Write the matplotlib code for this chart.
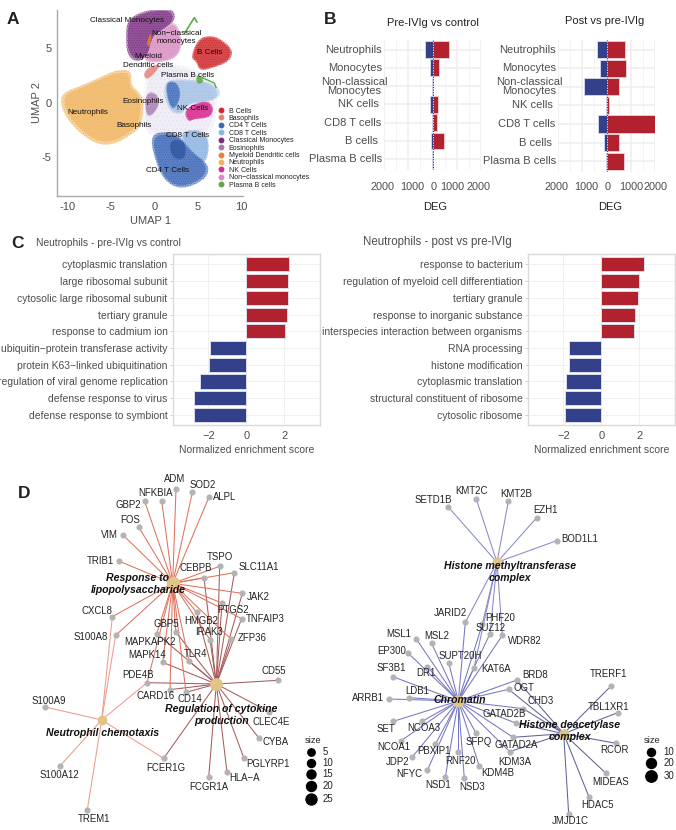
import matplotlib
matplotlib.use("Agg")
import matplotlib.pyplot as plt
from matplotlib.patches import Polygon
from matplotlib.lines import Line2D
from matplotlib.transforms import blended_transform_factory

plt.rcParams['font.family'] = ['Liberation Sans', 'DejaVu Sans']
plt.rcParams['hatch.linewidth'] = 0.35
W, H = 676, 830
fig = plt.figure(figsize=(W/100, H/100), dpi=100, facecolor='white')
GREY = '#4D4D4D'
RED = '#B2212E'
BLUE = '#33418A'

def axpx(x0, y0, x1, y1, **kw):
    return fig.add_axes([x0/W, 1-y1/H, (x1-x0)/W, (y1-y0)/H], **kw)

# ---------------- Panel A data (UMAP outlines) --------
cell_types = ['B Cells', 'Basophils', 'CD4 T Cells', 'CD8 T Cells', 'Classical Monocytes', 'Eosinophils',
              'Myeloid Dendritic cells', 'Neutrophils', 'NK Cells', 'Non\u2212classical monocytes', 'Plasma B cells']
cell_colors = ['#CF2A2E', '#E8837A', '#3E68B8', '#8DB4E2', '#7B2D80', '#A878B0',
               '#E9832F', '#EFB45E', '#D8288F', '#D88CC0', '#5BAA47']
pale_cloud = [(-1.2, 3.6), (3, 3.6), (6, 2.6), (7.2, 1), (7.2, -1), (6.5, -3), (2, -3.2), (-.5, -3.2), (-1.6, -1.5), (-1, 1.5)]
outline_neut = [(-10.6, .9), (-8.3, 1.6), (-6.3, 2.3), (-4.4, 3.0), (-2.6, 3.0), (-2.7, 1.6), (-1.8, 1.0), (-1.2, .2),
                (-1.4, -1.9), (-2.3, -2.8), (-4.8, -3.9), (-6.7, -3.8), (-8.7, -2.7), (-10.2, -1.3), (-10.8, -.1)]
outline_nonclass = [(-.3, 6), (1, 6.7), (2.4, 7.6), (3.3, 5.6), (2.7, 4.2), (1, 3.7), (-.9, 3.7), (-1.2, 4.2)]
outline_class = [(-3.1, 7.7), (-.9, 8.5), (2.1, 8.7), (2.5, 7.6), (1, 6.7), (-.3, 6), (-.8, 4.2), (-2, 3.7), (-3.1, 4.3), (-3.3, 6)]
outline_b = [(4.8, 5.5), (5.65, 6.1), (7.2, 6.1), (9.1, 4.9), (8.7, 3.8), (6.8, 3.2), (5.2, 2.9), (4.8, 3.8), (4.2, 4.1)]
outline_baso = [(-1.3, 2.4), (-.9, 3.15), (.65, 3.6), (.5, 3.15), (-.7, 2.1)]
outline_myel = [(-.9, 5.4), (-.5, 6.3), (-.3, 6.2), (-.6, 5.0)]
outline_eos = [(-.7, 1), (.3, .85), (.65, -.05), (-.1, -1.1), (-.9, -1.3), (-1.1, .25)]
outline_cd8a = [(1.2, 1.9), (2.6, 2.2), (6.8, 1.9), (7.8, .85), (6.8, .15), (3.7, -.1), (3.3, -1.1), (1.8, -.9), (1.1, .55)]
outline_cd4a = [(1.3, 2.0), (2.7, 1.9), (3.1, .55), (2.2, -.8), (1.5, .25)]
outline_cd8b = [(2.6, -2.7), (5.3, -2.4), (6.4, -3.4), (6, -5.7), (4.5, -5)]
outline_cd4b = [(-.4, -3.4), (.2, -2.7), (2.6, -2.7), (4.4, -4.6), (6.2, -5.6), (6.2, -6.7), (4.6, -7.6), (2.6, -7.9), (.9, -6.9), (0, -5)]
outline_cd4c = [(1.8, -3.4), (3.5, -3.4), (3.7, -5), (2.6, -5.3), (1.8, -4.6)]
outline_nk = [(3.4, -.8), (4.5, -.1), (6.3, .2), (6.9, -.67), (6.3, -1.4), (4.5, -1.5), (3.9, -1.8)]
plasma_core = [(4.9, 2.6), (5.5, 2.3), (5.7, 1.9), (5.2, 1.7), (4.8, 1.9)]
plasma_tail_x = [5.5, 6.9, 7.1]
plasma_tail_y = [2.3, 1.8, 1.4]
plasma_top_x = [3.5, 4.6, 4.9]
plasma_top_y = [6.4, 7.8, 7.4]
umap_labels = ['Classical Monocytes', 'Non\u2212classical\nmonocytes', 'B Cells', 'Myeloid\nDendritic cells', 'Plasma B cells',
               'Eosinophils', 'NK Cells', 'Neutrophils', 'Basophils', 'CD8 T Cells', 'CD4 T Cells']
umap_lab_x = [-3.2, 2.5, 6.4, -.7, 3.8, -1.35, 4.4, -7.7, -2.3, 3.8, 1.5]
umap_lab_y = [7.5, 6.0, 4.6, 3.8, 2.45, .15, -.55, -.9, -2.1, -3.0, -6.2]


def chaikin(pts, n=3):
    for _ in range(n):
        out = []
        for i in range(len(pts)):
            a, b = pts[i], pts[(i+1) % len(pts)]
            out.append((.75*a[0]+.25*b[0], .75*a[1]+.25*b[1]))
            out.append((.25*a[0]+.75*b[0], .25*a[1]+.75*b[1]))
        pts = out
    return pts


def blob(a, pts, c, alpha, hatch='.......'):
    s = chaikin(pts)
    cx = sum(p[0] for p in s)/len(s)
    cy = sum(p[1] for p in s)/len(s)
    a.add_patch(Polygon(s, closed=True, facecolor='none', edgecolor=c, lw=0, alpha=alpha, hatch=hatch))
    a.add_patch(Polygon(s, closed=True, facecolor=c, edgecolor='none', alpha=alpha*.55))
    inner = [(cx+(x-cx)*.92, cy+(y-cy)*.92) for x, y in s]
    a.add_patch(Polygon(inner, closed=True, facecolor=c, edgecolor='none', alpha=alpha*.65))


ax = axpx(57, 10, 243, 196)
ax.set_xlim(-11.2, 10.2)
ax.set_ylim(-8.56, 8.5)
blob(ax, pale_cloud, '#C4B8DC', .22, hatch='....')
shapes = [(outline_neut, cell_colors[7], 1), (outline_nonclass, cell_colors[9], .95),
          (outline_class, cell_colors[4], .95), (outline_b, cell_colors[0], 1), (outline_baso, cell_colors[1], .95),
          (outline_eos, cell_colors[5], .85), (outline_cd8a, cell_colors[3], .6), (outline_cd4a, cell_colors[2], .8),
          (outline_cd8b, cell_colors[3], 1), (outline_cd4b, cell_colors[2], 1), (outline_cd4c, '#2F559F', .8),
          (outline_nk, cell_colors[8], 1), (outline_myel, cell_colors[6], 1), (plasma_core, cell_colors[10], 1)]
for pts, c, al in shapes:
    blob(ax, pts, c, al)
ax.plot(plasma_tail_x, plasma_tail_y, color=cell_colors[10], lw=1.0)
ax.plot(plasma_top_x, plasma_top_y, color=cell_colors[10], lw=1.2)
for s, x, y in zip(umap_labels, umap_lab_x, umap_lab_y):
    ax.text(x, y, s, ha='center', va='center', fontsize=5.9, color='#111111', linespacing=1.3)
for s in ['top', 'right']:
    ax.spines[s].set_visible(False)
for s in ['left', 'bottom']:
    ax.spines[s].set_color('#A9A9A9')
    ax.spines[s].set_linewidth(1.0)
ax.set_xticks([-10, -5, 0, 5, 10])
ax.set_xticklabels(['-10', '-5', '0', '5', '10'])
ax.set_yticks([-5, 0, 5])
ax.set_yticklabels(['-5', '0', '5'])
ax.tick_params(length=0, labelsize=8, labelcolor=GREY, pad=4)
ax.set_xlabel('UMAP 1', fontsize=8, color=GREY, labelpad=3)
ax.set_ylabel('UMAP 2', fontsize=8, color=GREY, labelpad=0)
handles = [Line2D([], [], ls='', marker='o', ms=3.2, color=c) for c in cell_colors]
fig.legend(handles, cell_types, loc='upper left', bbox_to_anchor=(214/W, 1-107.5/H), frameon=False, fontsize=5,
           labelspacing=0.06, handletextpad=0.1, borderpad=0, borderaxespad=0, labelcolor='#222222')

# ---------------- Panel B data ----------------------------------------------
deg_cells = ['Neutrophils', 'Monocytes', 'Non-classical\nMonocytes', 'NK cells', 'CD8 T cells', 'B cells', 'Plasma B cells']
pre_down = [290, 100, 15, 110, 30, 50, 15]
pre_up = [660, 260, 25, 235, 190, 470, 35]
post_down = [400, 275, 925, 20, 370, 110, 30]
post_up = [770, 785, 510, 110, 1985, 525, 730]
deg_ticks = [-2000, -1000, 0, 1000, 2000]
deg_ticklabels = ['2000', '1000', '0', '1000', '2000']
pre_label_pos = [-2055, -841, 28, 827, 1917]
post_label_pos = [-2069, -828, 41, 1034, 2000]


def deg_panel(box, down, up, title, tx, ty, lab_x, label_pos, deg_x):
    a = axpx(*box)
    a.set_xlim(-2000, 2000)
    a.set_ylim(6.58, -.52)
    pos = range(len(deg_cells))
    a.barh(pos, [-v for v in down], height=.92, color=BLUE, edgecolor='#DADDEB', lw=.6, zorder=3)
    a.barh(pos, up, height=.92, color=RED, edgecolor='#EBD5D8', lw=.6, zorder=3)
    a.axvline(0, color='#222244', ls=':', lw=.7, zorder=4)
    a.set_xticks(deg_ticks)
    a.set_xticklabels([])
    a.set_xticks([-1500, -500, 500, 1500], minor=True)
    a.set_yticks(list(pos))
    a.set_yticklabels([])
    a.grid(True, which='major', color='#EDEDED', lw=1.1, zorder=0)
    a.grid(True, which='minor', axis='x', color='#F2F2F2', lw=.6, zorder=0)
    a.tick_params(which='both', length=0)
    for s in a.spines.values():
        s.set_visible(False)
    trx = blended_transform_factory(a.transData, fig.transFigure)
    for v, s in zip(label_pos, deg_ticklabels):
        a.text(v, 1-187/H, s, transform=trx, ha='center', va='center', fontsize=7.8, color=GREY, clip_on=False)
    tr = blended_transform_factory(a.transAxes, a.transData)
    for p, s, dx in zip(pos, deg_cells, lab_x):
        a.text(dx, p, s, transform=tr, ha='center' if '\n' in s else 'right', va='center', fontsize=8,
               color=GREY, linespacing=.9)
    fig.text(tx/W, 1-ty/H, title, ha='center', va='center', fontsize=8, color='#222222')
    fig.text(deg_x/W, 1-207/H, 'DEG', ha='center', va='center', fontsize=8, color='#222222')


deg_panel((384, 40, 481, 170), pre_down, pre_up, 'Pre-IVIg vs control', 433, 23,
          [-.02, -.02, -.31, -.05, -.03, -.06, -.02], pre_label_pos, 435)
deg_panel((558, 40, 655, 172), post_down, post_up, 'Post vs pre-IVIg', 605, 21,
          [-.02, -.02, -.30, -.05, -.03, -.06, -.02], post_label_pos, 610)

# ---------------- Panel C data ----------------------------------------------
terms_pre = ['cytoplasmic translation', 'large ribosomal subunit', 'cytosolic large ribosomal subunit', 'tertiary granule',
             'response to cadmium ion', 'ubiquitin\u2212protein transferase activity', 'protein K63\u2212linked ubiquitination',
             'regulation of viral genome replication', 'defense response to virus', 'defense response to symbiont']
nes_pre = [2.25, 2.17, 2.17, 2.12, 2.05, -1.92, -1.94, -2.43, -2.77, -2.77]
terms_post = ['response to bacterium', 'regulation of myeloid cell differentiation', 'tertiary granule',
              'response to inorganic substance', 'interspecies interaction between organisms', 'RNA processing',
              'histone modification', 'cytoplasmic translation', 'structural constituent of ribosome', 'cytosolic ribosome']
nes_post = [2.23, 2.0, 1.93, 1.75, 1.72, -1.7, -1.7, -1.88, -1.9, -1.9]


def nes_panel(box, terms, vals, title, tx, ty, tsize):
    a = axpx(*box)
    a.set_xlim(-3.86, 3.88)
    a.set_ylim(9.6, -.62)
    pos = list(range(len(terms)))
    cols = [RED if v > 0 else BLUE for v in vals]
    a.barh(pos, vals, height=.84, color=cols, edgecolor='#DADDEB', lw=.7, zorder=3)
    a.set_yticks(pos)
    a.set_yticklabels(terms)
    a.set_xticks([-2, 0, 2])
    a.set_xticklabels(['\u22122', '0', '2'])
    a.grid(True, color='#F0F0F0', lw=.7, zorder=0)
    a.tick_params(axis='y', labelsize=7.5, labelcolor=GREY, length=2.5, color='#CCCCCC', width=.6, pad=1.5)
    a.tick_params(axis='x', labelsize=8, labelcolor=GREY, length=0, pad=4.5)
    for s in a.spines.values():
        s.set_color('#D9D9D9')
        s.set_linewidth(1.0)
    a.set_xlabel('Normalized enrichment score', fontsize=7.5, color=GREY, labelpad=2.5)
    fig.text(tx/W, 1-ty/H, title, ha='left', va='center', fontsize=tsize, color=GREY)


nes_panel((173, 254, 320, 425), terms_pre, nes_pre, 'Neutrophils - pre-IVIg vs control', 36, 243, 7.4)
nes_panel((528, 254, 675, 425), terms_post, nes_post, 'Neutrophils - post vs pre-IVIg', 363, 242, 8.3)

# ---------------- Panel D data (network layout) --------
left_hub_names = ['Response to\nlipopolysaccharide', 'Regulation of cytokine\nproduction', 'Neutrophil chemotaxis']
left_hub_x = [518, 649, 305]
left_hub_y = [310, 612, 720]
left_hub_lab_x = [414, 665, 308]
left_hub_lab_y = [312, 704, 760]
left_hub_ms = [8.6, 8.2, 6]
left_edge_colors = ['#E0715A', '#A85A5A', '#EE9A8E']
left_genes = ['ADM', 'SOD2', 'ALPL', 'NFKBIA', 'GBP2', 'FOS', 'VIM', 'TRIB1', 'TSPO', 'CEBPB', 'SLC11A1', 'JAK2', 'PTGS2',
              'TNFAIP3', 'HMGB2', 'ZFP36', 'IRAK3', 'GBP5', 'MAPKAPK2', 'TLR4', 'MAPK14', 'PDE4B', 'CARD16', 'CD14', 'CD55',
              'CLEC4E', 'CYBA', 'PGLYRP1', 'HLA\u2212A', 'FCGR1A', 'FCER1G', 'CXCL8', 'S100A8', 'S100A9', 'S100A12', 'TREM1']
left_x = [528, 577, 627, 485, 434, 416, 370, 358, 659, 612, 703, 727, 666, 725, 590, 694, 630, 470, 527, 567, 488, 441, 510, 558,
          833, 808, 776, 732, 681, 626, 491, 337, 347, 136, 179, 262]
left_y = [27, 37, 51, 62, 64, 141, 166, 244, 259, 293, 278, 340, 369, 416, 397, 478, 479, 461, 455, 544, 547, 608, 629, 637,
          601, 696, 773, 835, 876, 892, 835, 410, 466, 681, 859, 989]
left_lab_x = [525, 607, 675, 466, 384, 390, 328, 301, 660, 588, 776, 774, 700, 796, 605, 758, 628, 500, 451, 586, 440, 414, 466, 570,
              820, 815, 828, 805, 733, 625, 498, 292, 272, 146, 178, 282]
left_lab_y = [-2, 14, 52, 39, 75, 119, 166, 244, 230, 264, 260, 350, 391, 416, 423, 473, 457, 433, 485, 521, 526, 584, 649, 658,
              572, 727, 785, 852, 893, 920, 864, 392, 470, 662, 885, 1018]
left_links = ['R', 'R', 'R', 'R', 'R', 'R', 'R', 'R', 'RC', 'RC', 'RC', 'RC', 'RC', 'RC', 'RC', 'RC', 'RC', 'RC', 'RC', 'RC', 'RC',
              'RCN', 'RC', 'RC', 'C', 'C', 'C', 'C', 'C', 'C', 'CN', 'RN', 'RN', 'N', 'N', 'N']
left_hub_keys = 'RCN'
left_clipped = ['CLEC4E', 'CYBA', 'PGLYRP1']
left_legend_sizes = ['5', '10', '15', '20', '25']
left_legend_y = [815, 848, 881, 917, 957]
left_legend_ms = [5.3, 5.8, 6.5, 7.2, 7.9]

right_hub_names = ['Histone methyltransferase\ncomplex', 'Chromatin', 'Histone deacetylase\ncomplex']
right_hub_x = [471, 355, 671]
right_hub_y = [247, 663, 761]
right_hub_lab_x = [510, 358, 690]
right_hub_lab_y = [276, 660, 752]
right_hub_ms = [6.2, 7.7, 6.7]
right_edge_colors = ['#8589CC', '#7477C4', '#5F6296']
right_genes = ['SETD1B', 'KMT2C', 'KMT2B', 'EZH1', 'BOD1L1', 'JARID2', 'PHF20', 'SUZ12', 'WDR82', 'KAT6A', 'MSL1', 'MSL2', 'EP300',
               'SUPT20H', 'DR1', 'SF3B1', 'LDB1', 'ARRB1', 'BRD8', 'OGT', 'CHD3', 'GATAD2B', 'GATAD2A', 'KDM3A', 'SET', 'NCOA3',
               'NCOA1', 'PBXIP1', 'JDP2', 'NFYC', 'NSD1', 'RNF20', 'NSD3', 'SFPQ', 'KDM4B', 'TRERF1', 'TBL1XR1', 'RCOR', 'MIDEAS',
               'HDAC5', 'JMJD1C']
right_x = [325, 409, 505, 590, 650, 376, 427, 450, 487, 402, 229, 275, 205, 326, 261, 158, 208, 148, 531, 506, 550, 527, 519, 509,
           160, 246, 182, 286, 216, 262, 316, 355, 373, 408, 418, 814, 833, 828, 798, 747, 686]
right_y = [81, 57, 64, 113, 182, 427, 432, 461, 466, 564, 477, 490, 520, 548, 560, 590, 653, 657, 600, 628, 686, 729, 772, 815,
           724, 724, 783, 793, 832, 871, 891, 816, 895, 759, 859, 617, 698, 790, 880, 951, 1001]
right_lab_x = [279, 393, 530, 616, 720, 332, 481, 453, 553, 467, 176, 291, 156, 361, 257, 155, 231, 85, 585, 551, 602, 493, 530, 525,
               139, 250, 162, 281, 172, 208, 293, 360, 396, 417, 474, 805, 806, 824, 812, 774, 690]
right_lab_y = [61, 34, 42, 90, 178, 398, 415, 445, 482, 568, 462, 467, 513, 527, 580, 564, 634, 655, 584, 624, 664, 703, 795, 845,
               748, 745, 800, 813, 845, 882, 916, 842, 920, 787, 880, 583, 680, 811, 905, 976, 1024]
right_links = ['H', 'H', 'H', 'H', 'H', 'HT', 'HT', 'HT', 'HT', 'HT', 'T', 'T', 'T', 'T', 'T', 'T', 'T', 'T', 'TD', 'TD', 'TD', 'TD',
               'TD', 'TD', 'T', 'T', 'T', 'T', 'T', 'T', 'T', 'T', 'T', 'T', 'T', 'D', 'D', 'D', 'D', 'D', 'D']
right_hub_keys = 'HTD'
right_legend_sizes = ['10', '20', '30']
right_legend_y = [815, 850, 888]
right_legend_ms = [5.8, 7.2, 8.2]


def network(box, xlim, names, hx, hy, hlx, hly, hms, ecols, keys, genes, gx, gy, lx, ly, links, clipped,
            leg_x, leg_lab_x, leg_y, leg_ms, leg_sizes):
    a = axpx(*box)
    a.set_xlim(*xlim)
    a.set_ylim(1050, 0)
    a.axis('off')
    for g_x, g_y, link in zip(gx, gy, links):
        for k in link:
            i = keys.index(k)
            a.plot([g_x, hx[i]], [g_y, hy[i]], color=ecols[i], lw=.75, zorder=1, clip_on=False)
    a.plot(gx, gy, ls='', marker='o', ms=3.4, mfc='#B3B3B3', mec='#B3B3B3', zorder=2, clip_on=False)
    for x, y, m in zip(hx, hy, hms):
        a.plot([x], [y], marker='o', ms=m, mfc='#E0C488', mec='#E0C488', zorder=3, clip_on=False)
    for s, x, y in zip(genes, lx, ly):
        a.text(x, y, s, ha='center', va='center', fontsize=6.9, color='#222222', zorder=4, clip_on=(s in clipped))
    for s, x, y in zip(names, hlx, hly):
        a.text(x, y, s, ha='center', va='center', fontsize=7.6, fontweight='bold', fontstyle='italic', color='#111111',
               zorder=5, linespacing=1.25, clip_on=False)
    a.text(leg_x + 5, 780, 'size', ha='center', va='center', fontsize=6.7, color='#222222', clip_on=False)
    for y, m, s in zip(leg_y, leg_ms, leg_sizes):
        a.plot([leg_x], [y], marker='o', ms=m, color='black', clip_on=False)
        a.text(leg_lab_x, y, s, ha='left', va='center', fontsize=6.9, color='#222222', clip_on=False)


network((0, 480, 868/3, 830), (0, 868), left_hub_names, left_hub_x, left_hub_y, left_hub_lab_x, left_hub_lab_y, left_hub_ms,
        left_edge_colors, left_hub_keys, left_genes, left_x, left_y, left_lab_x, left_lab_y, left_links, left_clipped,
        934, 968, left_legend_y, left_legend_ms, left_legend_sizes)
network((340, 480, 676, 830), (0, 1008), right_hub_names, right_hub_x, right_hub_y, right_hub_lab_x, right_hub_lab_y, right_hub_ms,
        right_edge_colors, right_hub_keys, right_genes, right_x, right_y, right_lab_x, right_lab_y, right_links, [],
        932, 970, right_legend_y, right_legend_ms, right_legend_sizes)

# ---------------- Panel letters ----------------------------------------------
panel_letters = ['A', 'B', 'C', 'D']
letter_x = [13, 330, 18, 24]
letter_y = [20, 20, 243, 493]
for s, x, y in zip(panel_letters, letter_x, letter_y):
    fig.text(x/W, 1-y/H, s, ha='center', va='center', fontsize=12.5, fontweight='bold', color='#222222')

fig.savefig('out.png', dpi=100)
